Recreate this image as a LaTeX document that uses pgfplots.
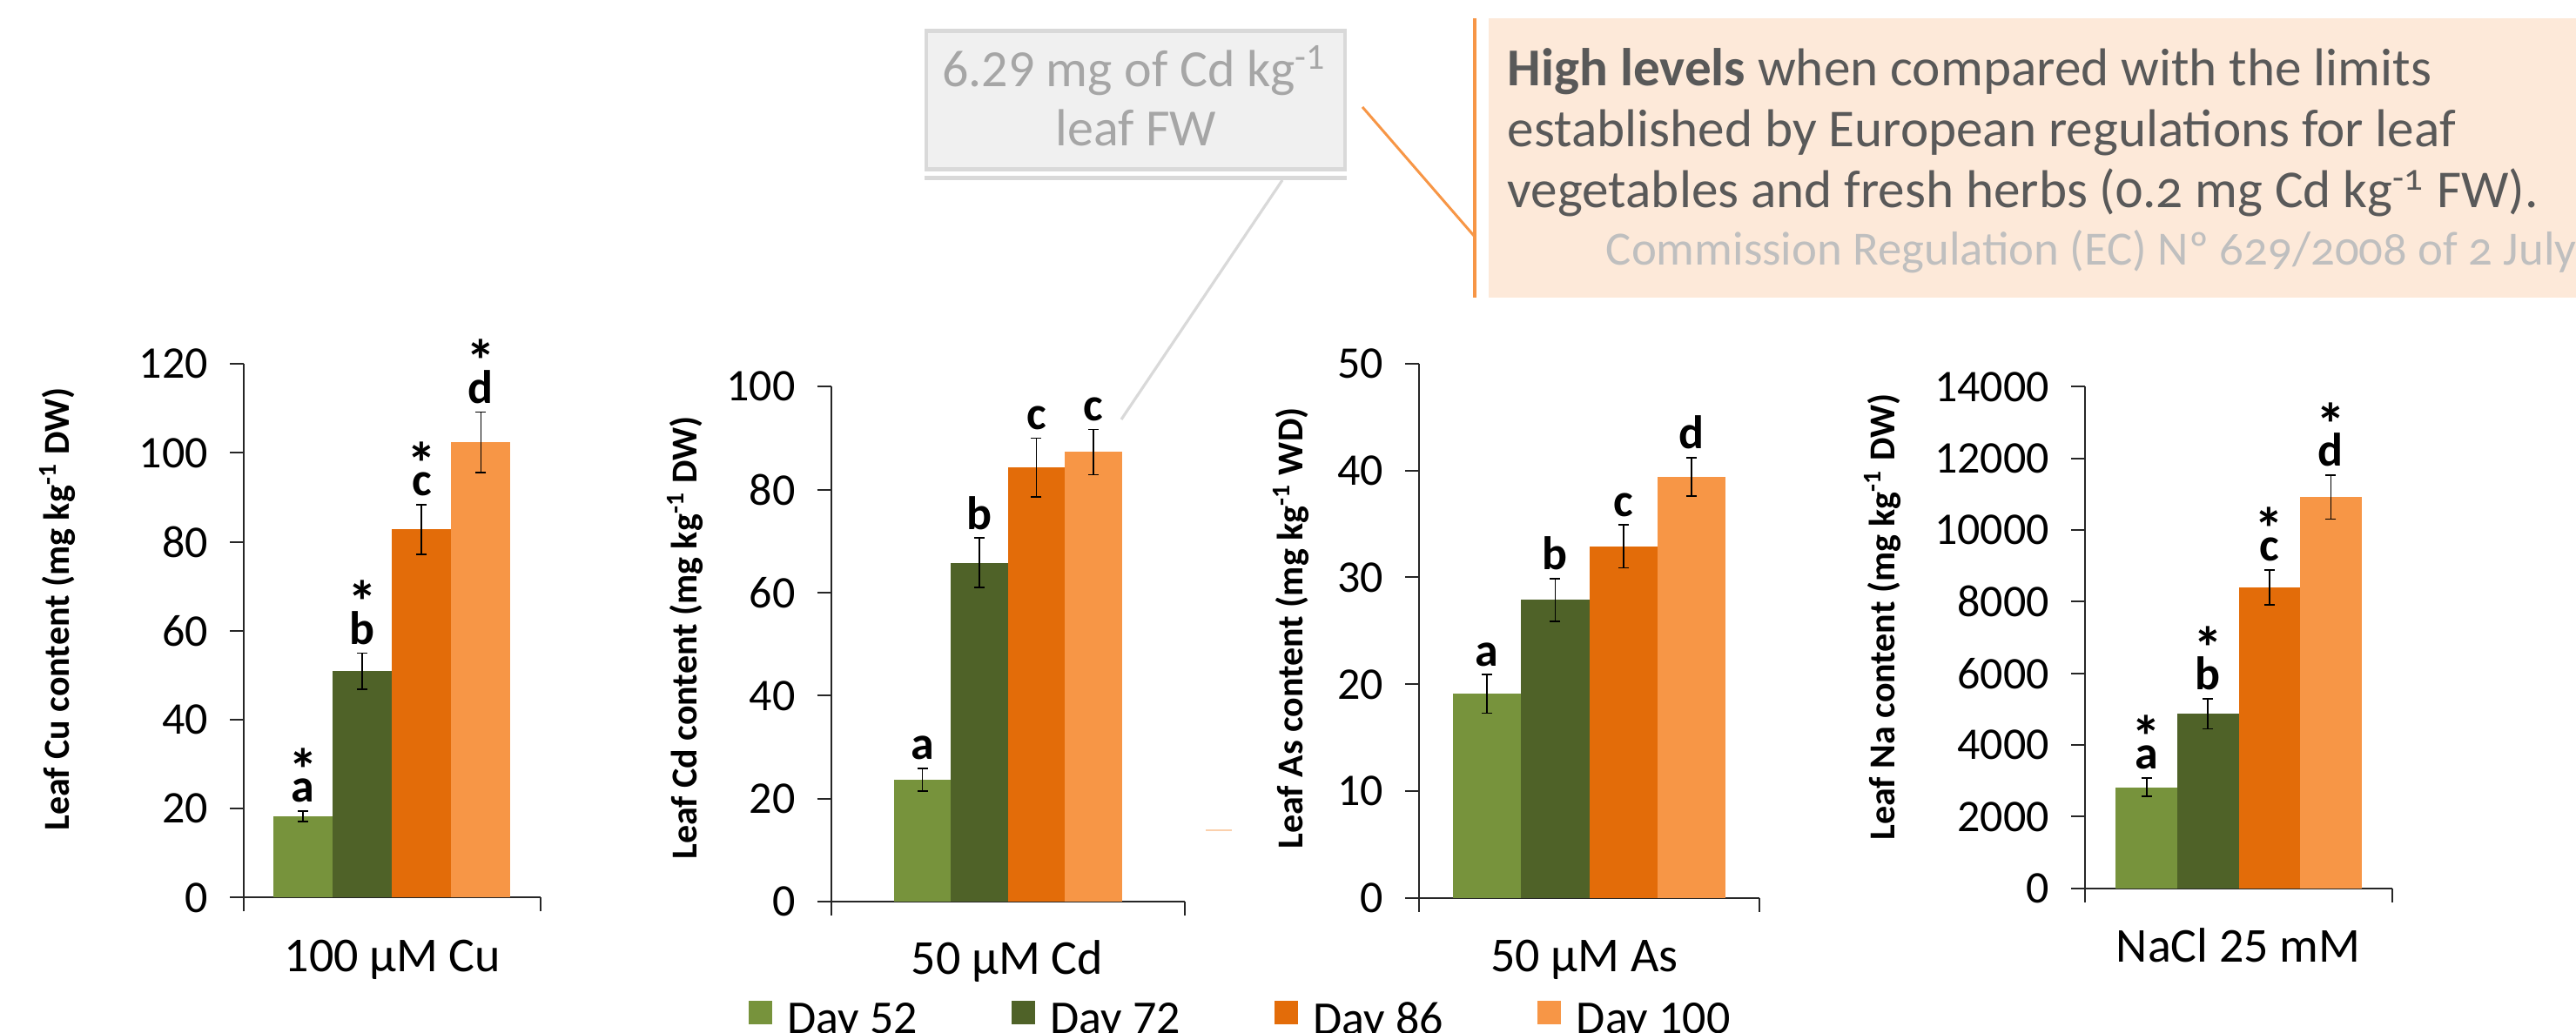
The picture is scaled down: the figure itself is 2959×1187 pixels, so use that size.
\documentclass[border=0pt]{standalone}
\usepackage{fontspec}
\setmainfont{Carlito}
\usepackage{pgfplots}
\pgfplotsset{compat=1.18}
\definecolor{cA}{HTML}{77933C}
\definecolor{cB}{HTML}{4F6228}
\definecolor{cC}{HTML}{E36C09}
\definecolor{cD}{HTML}{F79646}
\definecolor{peach}{HTML}{FDE9D9}
\definecolor{boxg}{HTML}{F0F0F0}
\definecolor{edgeg}{HTML}{D9D9D9}
\definecolor{txtg}{HTML}{A6A6A6}
\definecolor{dark}{HTML}{595959}
\definecolor{light}{HTML}{BFBFBF}
\pgfplotsset{
  panel/.style={
    scale only axis, anchor=south west,
    axis lines*=left, axis line style={-, line width=0.5pt, black!85},
    tick align=outside, major tick length=4pt,
    tick style={line width=0.5pt, black!85},
    enlargelimits=false, ymin=0, xticklabels={{},{}},
    tick label style={font=\fontsize{13}{13}\selectfont},
    yticklabel style={xshift=-2.75pt},
    /pgf/number format/assume math mode=true,
    /pgf/number format/1000 sep={},
    scaled y ticks=false, clip=false,
    every axis plot/.append style={ybar, bar width=1, bar shift=0pt, draw=none,
      error bars/y dir=both, error bars/y explicit,
      error bars/error bar style={line width=0.45pt, black},
      error bars/error mark options={rotate=90, mark size=1.5pt, line width=0.45pt, black}},
  },
}
\tikzset{
  lt/.style={anchor=base, yshift=2.5pt, inner sep=0pt, font=\bfseries\fontsize{13.5}{13.5}\selectfont},
  st/.style={anchor=base, yshift=-3.5pt, inner sep=0pt, font=\bfseries\fontsize{17}{17}\selectfont},
  ylab/.style={rotate=90, font=\bfseries\fontsize{10.5}{10.5}\selectfont},
  clab/.style={anchor=base, font=\fontsize{14}{14}\selectfont}}
\newcommand{\lt}[3]{\node[lt] at (axis cs:#1,#2) {#3};}
\newcommand{\lts}[3]{\node[lt] (L) at (axis cs:#1,#2) {#3}; \node[st] at (L.north) {*};}
\begin{document}
\begin{tikzpicture}[x=0.25pt, y=0.25pt]
\useasboundingbox (0,0) rectangle (2959,1187);

% ---------- annotations ----------
\fill[edgeg] (1062,990) rectangle (1547,1154);
\fill[boxg] (1066,995) rectangle (1543,1149);
\fill[edgeg] (1062,980) rectangle (1547,985);
\node[anchor=base, text=txtg, font=\fontsize{15}{15}\selectfont] at (1303,1087) {6.29 mg of Cd kg\textsuperscript{-1}};
\node[anchor=base, text=txtg, font=\fontsize{15}{15}\selectfont] at (1305,1019) {leaf FW};
\draw[edgeg, line width=0.8pt] (1473,980) -- (1288,705);

\fill[peach] (1710,845) rectangle (3000,1166);
\draw[cD, line width=1.1pt] (1694,845) -- (1694,1166);
\draw[cD, line width=0.75pt] (1565,1064) -- (1694,915);
\begin{scope}[every node/.style={anchor=base west, inner sep=0pt, text=dark, font=\fontsize{15.3}{15.3}\selectfont\addfontfeatures{Numbers=OldStyle}}]
\node at (1731,1088) {\textbf{High levels} when compared with the limits};
\node at (1731,1018) {established by European regulations for leaf};
\node at (1731,948) {vegetables and fresh herbs (0.2 mg Cd kg\textsuperscript{-1} FW).};
\node[text=light, font=\fontsize{13.7}{13.7}\selectfont\addfontfeatures{Numbers=OldStyle}] at (1844,882) {Commission Regulation (EC) Nº 629/2008 of 2 July};
\end{scope}
\draw[cD!45, line width=0.5pt] (1385,233) -- (1415,233);

% ---------- panel 1: Cu ----------
\begin{axis}[panel, at={(70pt,38.875pt)}, width=85.125pt, height=153.3pt,
  xmin=0, xmax=5, ymax=120, ytick={0,20,...,120}, xtick={0,5}]
\addplot[fill=cA] coordinates {(1,18.3) +- (0,1.2)};
\addplot[fill=cB] coordinates {(2,50.9) +- (0,4.1)};
\addplot[fill=cC] coordinates {(3,82.8) +- (0,5.6)};
\addplot[fill=cD] coordinates {(4,102.4) +- (0,6.8)};
\lts{1}{19.5}{a}
\lts{2}{55.0}{b}
\lts{3}{88.4}{c}
\lts{4}{109.2}{d}
\end{axis}
\node[ylab] at (66,487) {Leaf Cu content (mg kg\textsuperscript{-1} DW)};
\node[clab] at (451,70) {100 µM Cu};

% ---------- panel 2: Cd ----------
\begin{axis}[panel, at={(238.625pt,37.725pt)}, width=101.6pt, height=147.95pt,
  xmin=-0.605, xmax=5.605, ymax=100, ytick={0,20,...,100}, xtick={-0.605,5.605},
  legend columns=4,
  legend style={draw=none, fill=none, at={(-0.2326,-0.1925)}, anchor=north west,
    inner sep=0pt, outer sep=0pt, font=\fontsize{13.5}{13.5}\selectfont,
    nodes={inner sep=0pt},
    /tikz/every odd column/.append style={column sep=4.4pt},
    /tikz/every even column/.append style={column sep=27pt}},
  legend image code/.code={\fill[#1] (0pt,-1.1pt) rectangle (6.75pt,5.65pt);}]
\addplot[fill=cA] coordinates {(1,23.7) +- (0,2.2)};
\addlegendentry{Day 52}
\addplot[fill=cB] coordinates {(2,65.8) +- (0,4.8)};
\addlegendentry{Day 72}
\addplot[fill=cC] coordinates {(3,84.3) +- (0,5.7)};
\addlegendentry{Day 86}
\addplot[fill=cD] coordinates {(4,87.3) +- (0,4.4)};
\addlegendentry{Day 100}
\lt{1}{25.9}{a}
\lt{2}{70.6}{b}
\lt{3}{90.0}{c}
\lt{4}{91.7}{c}
\end{axis}
\node[ylab] at (787,454) {Leaf Cd content (mg kg\textsuperscript{-1} DW)};
\node[clab] at (1157,67) {50 µM Cd};

% ---------- panel 3: As ----------
\begin{axis}[panel, at={(407.5pt,38.75pt)}, width=97.75pt, height=153.55pt,
  xmin=0, xmax=5, ymax=50, ytick={0,10,...,50}, xtick={0,5}]
\addplot[fill=cA] coordinates {(1,19.1) +- (0,1.8)};
\addplot[fill=cB] coordinates {(2,27.9) +- (0,2.0)};
\addplot[fill=cC] coordinates {(3,32.9) +- (0,2.0)};
\addplot[fill=cD] coordinates {(4,39.4) +- (0,1.8)};
\lt{1}{20.9}{a}
\lt{2}{29.9}{b}
\lt{3}{34.9}{c}
\lt{4}{41.2}{d}
\end{axis}
\node[ylab] at (1483,465) {Leaf As content (mg kg\textsuperscript{-1} WD)};
\node[clab] at (1820,70) {50 µM As};

% ---------- panel 4: Na ----------
\begin{axis}[panel, at={(598.75pt,41.55pt)}, width=88.25pt, height=144.1pt,
  xmin=0, xmax=5, ymax=14000, ytick={0,2000,...,14000}, xtick={0,5}]
\addplot[fill=cA] coordinates {(1,2820) +- (0,260)};
\addplot[fill=cB] coordinates {(2,4870) +- (0,420)};
\addplot[fill=cC] coordinates {(3,8400) +- (0,490)};
\addplot[fill=cD] coordinates {(4,10920) +- (0,615)};
\lts{1}{3080}{a}
\lts{2}{5290}{b}
\lts{3}{8890}{c}
\lts{4}{11535}{d}
\end{axis}
\node[ylab] at (2162.5,478) {Leaf Na content (mg kg\textsuperscript{-1} DW)};
\node[clab] at (2571,81.5) {NaCl 25 mM};
\end{tikzpicture}
\end{document}
